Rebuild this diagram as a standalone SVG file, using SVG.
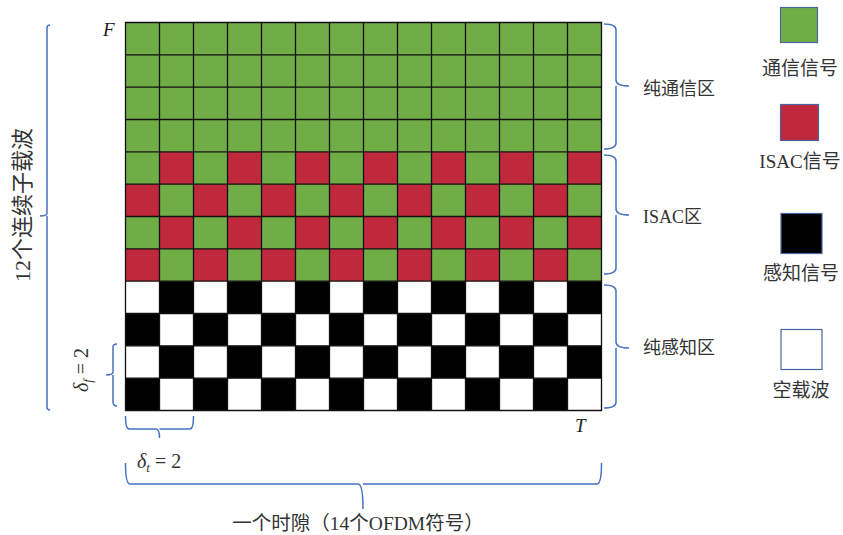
<svg xmlns="http://www.w3.org/2000/svg" width="843" height="535" viewBox="0 0 843 535">
<style>
.g{fill:#70AD47}
.r{fill:#C0293B}
.k{fill:#000}
.w{fill:#fff}
.grid{stroke:#111;stroke-width:1.3;fill:none}
.br{stroke:#4472C4;stroke-width:1.5;fill:none}
.lbl{font-family:"Liberation Serif","Noto Sans CJK SC",serif;font-size:18px;fill:#333}
.it{font-family:"Liberation Serif",serif;font-style:italic;font-size:19px;fill:#222}
.lg{stroke:#4A66A0;stroke-width:1.2}
</style>
<rect width="843" height="535" fill="#fff"/>
<g id="comm-zone">
<rect class="g" x="125.5" y="22.5" width="476" height="129.3"/>
</g>
<g id="isac-zone">
<rect class="g" x="125.5" y="151.8" width="476" height="129.4"/>
<g class="r">
<rect x="159.5" y="151.8" width="34" height="32.35"/><rect x="227.5" y="151.8" width="34" height="32.35"/><rect x="295.5" y="151.8" width="34" height="32.35"/><rect x="363.5" y="151.8" width="34" height="32.35"/><rect x="431.5" y="151.8" width="34" height="32.35"/><rect x="499.5" y="151.8" width="34" height="32.35"/><rect x="567.5" y="151.8" width="34" height="32.35"/>
<rect x="125.5" y="184.15" width="34" height="32.35"/><rect x="193.5" y="184.15" width="34" height="32.35"/><rect x="261.5" y="184.15" width="34" height="32.35"/><rect x="329.5" y="184.15" width="34" height="32.35"/><rect x="397.5" y="184.15" width="34" height="32.35"/><rect x="465.5" y="184.15" width="34" height="32.35"/><rect x="533.5" y="184.15" width="34" height="32.35"/>
<rect x="159.5" y="216.5" width="34" height="32.35"/><rect x="227.5" y="216.5" width="34" height="32.35"/><rect x="295.5" y="216.5" width="34" height="32.35"/><rect x="363.5" y="216.5" width="34" height="32.35"/><rect x="431.5" y="216.5" width="34" height="32.35"/><rect x="499.5" y="216.5" width="34" height="32.35"/><rect x="567.5" y="216.5" width="34" height="32.35"/>
<rect x="125.5" y="248.85" width="34" height="32.35"/><rect x="193.5" y="248.85" width="34" height="32.35"/><rect x="261.5" y="248.85" width="34" height="32.35"/><rect x="329.5" y="248.85" width="34" height="32.35"/><rect x="397.5" y="248.85" width="34" height="32.35"/><rect x="465.5" y="248.85" width="34" height="32.35"/><rect x="533.5" y="248.85" width="34" height="32.35"/>
</g>
</g>
<g id="sense-zone">
<rect class="w" x="125.5" y="281.2" width="476" height="129.3"/>
<g class="k">
<rect x="159.5" y="281.2" width="34" height="32.3"/><rect x="227.5" y="281.2" width="34" height="32.3"/><rect x="295.5" y="281.2" width="34" height="32.3"/><rect x="363.5" y="281.2" width="34" height="32.3"/><rect x="431.5" y="281.2" width="34" height="32.3"/><rect x="499.5" y="281.2" width="34" height="32.3"/><rect x="567.5" y="281.2" width="34" height="32.3"/>
<rect x="125.5" y="313.5" width="34" height="32.35"/><rect x="193.5" y="313.5" width="34" height="32.35"/><rect x="261.5" y="313.5" width="34" height="32.35"/><rect x="329.5" y="313.5" width="34" height="32.35"/><rect x="397.5" y="313.5" width="34" height="32.35"/><rect x="465.5" y="313.5" width="34" height="32.35"/><rect x="533.5" y="313.5" width="34" height="32.35"/>
<rect x="159.5" y="345.85" width="34" height="32.35"/><rect x="227.5" y="345.85" width="34" height="32.35"/><rect x="295.5" y="345.85" width="34" height="32.35"/><rect x="363.5" y="345.85" width="34" height="32.35"/><rect x="431.5" y="345.85" width="34" height="32.35"/><rect x="499.5" y="345.85" width="34" height="32.35"/><rect x="567.5" y="345.85" width="34" height="32.35"/>
<rect x="125.5" y="378.2" width="34" height="32.3"/><rect x="193.5" y="378.2" width="34" height="32.3"/><rect x="261.5" y="378.2" width="34" height="32.3"/><rect x="329.5" y="378.2" width="34" height="32.3"/><rect x="397.5" y="378.2" width="34" height="32.3"/><rect x="465.5" y="378.2" width="34" height="32.3"/><rect x="533.5" y="378.2" width="34" height="32.3"/>
</g>
</g>
<g id="grid-lines">
<path class="grid" d="M125.5,22.5H601.5V410.5H125.5Z M159.5,22.5V410.5 M193.5,22.5V410.5 M227.5,22.5V410.5 M261.5,22.5V410.5 M295.5,22.5V410.5 M329.5,22.5V410.5 M363.5,22.5V410.5 M397.5,22.5V410.5 M431.5,22.5V410.5 M465.5,22.5V410.5 M499.5,22.5V410.5 M533.5,22.5V410.5 M567.5,22.5V410.5 M125.5,54.83H601.5 M125.5,87.17H601.5 M125.5,119.5H601.5 M125.5,151.83H601.5 M125.5,184.17H601.5 M125.5,216.5H601.5 M125.5,248.83H601.5 M125.5,281.17H601.5 M125.5,313.5H601.5 M125.5,345.83H601.5 M125.5,378.17H601.5"/>
</g>
<g id="axis-labels">
<text class="it" x="103" y="36">F</text>
<text class="it" x="575" y="432">T</text>
</g>
<g id="connectors">
<path class="br" d="M604,24 Q616,24 616,30 V80 Q616,86 629,86 M616,86 Q616,92 616,94 V143 Q616,149 604,149"/>
<path class="br" d="M604,155 Q616,155 616,161 V209 Q616,215 629,215 M616,215 V268 Q616,274 604,274"/>
<path class="br" d="M604,285 Q616,285 616,291 V342 Q616,348 629,348 M616,348 V402 Q616,408 604,408"/>
<path class="br" d="M50,25 Q47,25 47,28 V213 Q47,216 40,216 M47,216 V407 Q47,410 50,410"/>
<path class="br" d="M117,344 Q113,344 113,347 V372 Q113,375 106,375 M113,375 V402 Q113,406 117,406"/>
<path class="br" d="M125.5,416 Q125.5,429 129,429 H156 Q159.5,429 159.5,438 M159.5,429 Q163,429 163,429 H190 Q193.5,429 193.5,416"/>
<path class="br" d="M125.5,463 Q125.5,484 130,484 H358 Q363,484 363,509 M363,484 Q368,484 368,484 H597 Q601.5,484 601.5,463"/>
</g>
<g id="zone-labels">
<text class="lbl" x="643" y="95">纯通信区</text>
<text class="lbl" x="643" y="223">ISAC区</text>
<text class="lbl" x="643" y="354">纯感知区</text>
<text class="lbl" transform="translate(30,205) rotate(-90)" text-anchor="middle" style="font-size:22px">12个连续子载波</text>
<text class="lbl" x="358" y="530" text-anchor="middle" style="font-size:19.5px">一个时隙（14个OFDM符号）</text>
</g>
<g id="delta-labels">
<text transform="translate(88,370) rotate(-90)" text-anchor="middle" style="font-family:'Liberation Serif',serif;font-size:20px;fill:#333"><tspan font-style="italic">δ</tspan><tspan font-style="italic" font-size="13" dy="4">f</tspan><tspan dy="-4"> = 2</tspan></text>
<text x="137" y="468" style="font-family:'Liberation Serif',serif;font-size:20px;fill:#333"><tspan font-style="italic">δ</tspan><tspan font-style="italic" font-size="13" dy="4">t</tspan><tspan dy="-4"> = 2</tspan></text>
</g>
<g id="legend-comm">
<rect class="g lg" x="780.5" y="7.5" width="37" height="35"/>
<text class="lbl" x="800" y="75" text-anchor="middle" style="font-size:19px">通信信号</text>
</g>
<g id="legend-isac">
<rect class="r lg" x="780.5" y="104.5" width="38" height="36"/>
<text class="lbl" x="800" y="168" text-anchor="middle" style="font-size:19px">ISAC信号</text>
</g>
<g id="legend-sense">
<rect class="k lg" x="781" y="213.5" width="41" height="40"/>
<text class="lbl" x="801" y="280" text-anchor="middle" style="font-size:19px">感知信号</text>
</g>
<g id="legend-empty">
<rect class="w lg" x="781" y="329.5" width="41" height="40"/>
<text class="lbl" x="801" y="397" text-anchor="middle" style="font-size:19px">空载波</text>
</g>
</svg>
